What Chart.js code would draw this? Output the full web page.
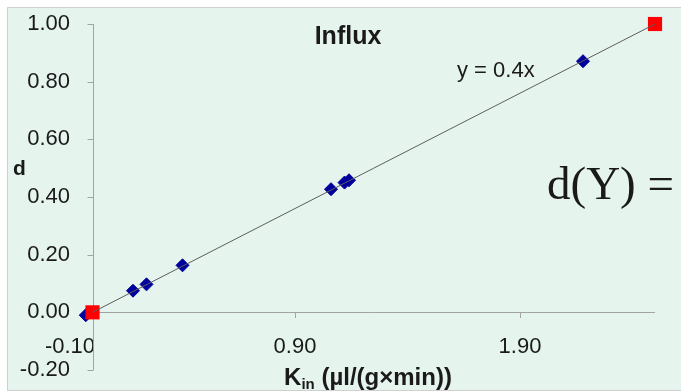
<!DOCTYPE html>
<html>
<head>
<meta charset="utf-8">
<script src="https://cdn.jsdelivr.net/npm/chart.js@4/dist/chart.umd.min.js"></script>
<style>
  html, body { margin: 0; padding: 0; background: #fff; }
  #wrap { width: 681px; height: 392px; }
</style>
</head>
<body>
<div id="wrap"><canvas id="chart" width="681" height="392"></canvas></div>
<script>
const xTicks = [-0.1, 0.9, 1.9];
const yTicks = [-0.2, 0, 0.2, 0.4, 0.6, 0.8, 1.0];

// measured points (blue diamonds)
const influxX = [-0.03, 0.18, 0.24, 0.40, 1.06, 1.12, 1.14, 2.18];
const influxY = [-0.01, 0.075, 0.097, 0.163, 0.427, 0.45, 0.458, 0.871];

// reference points (red squares)
const refX = [0, 2.5];
const refY = [0, 1.0];

// trend line y = 0.4x, drawn between the reference points
const trendX = [0, 2.5];
const trendY = [0, 1.0];

const axisGray = '#a3a3a3';
const textColor = '#1a1a1a';
const sans = '"Liberation Sans", Arial, sans-serif';

const toXY = (xs, ys) => xs.map((x, i) => ({ x, y: ys[i] }));

const framePlugin = {
  id: 'frame',
  beforeDraw(chart) {
    const c = chart.ctx;
    c.save();
    c.fillStyle = '#ffffff';
    c.fillRect(0, 0, chart.width, chart.height);
    c.fillStyle = '#e6f4ee';
    c.fillRect(7, 7, chart.width - 7, chart.height - 8);
    c.strokeStyle = '#cfcfcf';
    c.lineWidth = 1;
    c.beginPath();
    c.moveTo(chart.width, 7.5);
    c.lineTo(7.5, 7.5);
    c.lineTo(7.5, chart.height - 1.5);
    c.lineTo(chart.width, chart.height - 1.5);
    c.stroke();
    c.restore();
  },
  beforeDatasetsDraw(chart) {
    // axes cross at (0, 0)
    const { x, y } = chart.scales;
    const area = chart.chartArea;
    const c = chart.ctx;
    const px = Math.round(x.getPixelForValue(0)) + 0.5;
    const py = Math.round(y.getPixelForValue(0)) + 0.5;
    c.save();
    c.strokeStyle = axisGray;
    c.lineWidth = 1;
    c.beginPath();
    c.moveTo(px, py);
    c.lineTo(area.right, py);
    c.moveTo(px, area.top);
    c.lineTo(px, area.bottom);
    yTicks.forEach((v) => {
      const ty = Math.round(y.getPixelForValue(v)) + 0.5;
      c.moveTo(px - 6, ty);
      c.lineTo(px, ty);
    });
    c.stroke();
    c.restore();
  },
  afterDraw(chart) {
    const c = chart.ctx;
    c.save();
    c.fillStyle = textColor;
    c.textBaseline = 'alphabetic';

    c.font = 'bold 25px ' + sans;
    c.textAlign = 'center';
    c.fillText('Influx', 348, 44);

    c.font = '22px ' + sans;
    c.textAlign = 'left';
    c.fillText('y = 0.4x', 457, 77);

    c.font = 'bold 21px ' + sans;
    c.fillText('d', 13, 175);

    // x axis title with subscript
    const big = 'bold 24px ' + sans;
    const small = 'bold 15px ' + sans;
    const rest = ' (\u00b5l/(g\u00d7min))';
    c.font = big;
    const wK = c.measureText('K').width;
    const wRest = c.measureText(rest).width;
    c.font = small;
    const wIn = c.measureText('in').width;
    let sx = 368 - (wK + wIn + wRest) / 2;
    c.font = big;
    c.fillText('K', sx, 385);
    sx += wK;
    c.font = small;
    c.fillText('in', sx, 389);
    sx += wIn;
    c.font = big;
    c.fillText(rest, sx, 385);

    c.font = '47px "Liberation Serif", "Times New Roman", serif';
    c.fillText('d(Y) =', 547, 199);
    c.restore();
  }
};

new Chart(document.getElementById('chart'), {
  type: 'scatter',
  data: {
    datasets: [
      {
        label: 'trend',
        data: toXY(trendX, trendY),
        showLine: true,
        pointRadius: 0,
        borderColor: '#5e5e5e',
        borderWidth: 1,
        clip: false,
        order: 0
      },
      {
        label: 'reference',
        data: toXY(refX, refY),
        pointStyle: 'rect',
        pointRadius: 10,
        backgroundColor: '#ff0000',
        borderColor: '#ff0000',
        borderWidth: 0,
        clip: false,
        order: 1
      },
      {
        label: 'Influx',
        data: toXY(influxX, influxY),
        pointStyle: 'rectRot',
        pointRadius: 6.5,
        backgroundColor: '#00009c',
        borderColor: '#00009c',
        borderWidth: 1,
        clip: false,
        order: 2
      }
    ]
  },
  options: {
    responsive: false,
    animation: false,
    devicePixelRatio: 1,
    layout: { padding: { left: 0, right: 26, top: 24, bottom: 22 } },
    plugins: { legend: { display: false }, tooltip: { enabled: false } },
    scales: {
      x: {
        type: 'linear',
        min: -0.1,
        max: 2.5,
        position: { y: 0 },
        afterBuildTicks: (s) => { s.ticks = xTicks.map((v) => ({ value: v })); },
        ticks: {
          color: textColor,
          font: { family: sans, size: 22 },
          padding: 15,
          maxRotation: 0,
          autoSkip: false,
          callback: (v) => Number(v).toFixed(2)
        },
        grid: {
          drawOnChartArea: false,
          drawTicks: true,
          tickLength: 6,
          color: (ctx) => (ctx.tick && ctx.tick.value === -0.1 ? 'rgba(0,0,0,0)' : axisGray)
        },
        border: { display: false }
      },
      y: {
        type: 'linear',
        min: -0.2,
        max: 1.0,
        position: 'left',
        afterBuildTicks: (s) => { s.ticks = yTicks.map((v) => ({ value: v })); },
        afterFit: (s) => { s.width = 70; },
        ticks: {
          color: textColor,
          font: { family: sans, size: 22 },
          padding: 0,
          autoSkip: false,
          callback: (v) => Number(v).toFixed(2)
        },
        grid: { display: false, drawTicks: false },
        border: { display: false }
      }
    }
  },
  plugins: [framePlugin]
});
</script>
</body>
</html>
